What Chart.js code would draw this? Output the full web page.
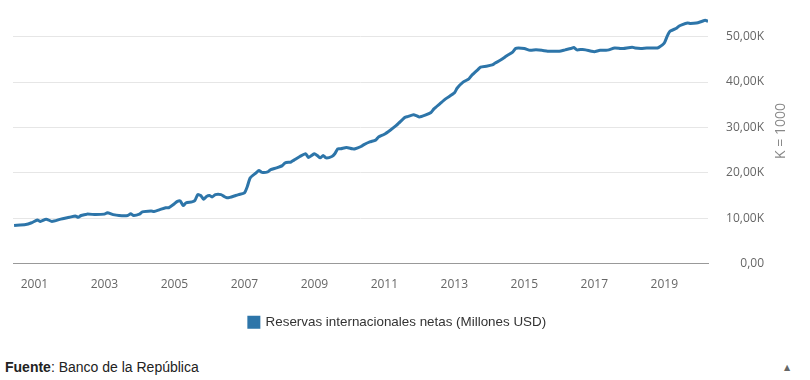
<!DOCTYPE html>
<html>
<head>
<meta charset="utf-8">
<script src="https://cdn.jsdelivr.net/npm/chart.js@4.4.0/dist/chart.umd.min.js"></script>
<style>
    html, body { margin: 0; padding: 0; background: #fff; }
    #wrap { position: relative; width: 810px; height: 380px; overflow: hidden; }
    #chart { position: absolute; left: 0; top: 0; }
    #fuente { position: absolute; left: 5px; top: 359px; font-family: "Liberation Sans", Arial, sans-serif; font-size: 14px; color: #222; }
    #arrow { position: absolute; left: 784px; top: 363px; font-family: "DejaVu Sans", sans-serif; font-size: 8px; color: #666; }
</style>
</head>
<body>
<div id="wrap">
    <canvas id="chart" width="810" height="345"></canvas>
    <div id="fuente"><b>Fuente</b>: Banco de la República</div>
    <div id="arrow">▲</div>
</div>
<script>
// meses (AAAA-MM) y reservas en millones de USD
const months = [
    '2000-06', '2000-10', '2000-12', '2001-02', '2001-03', '2001-05', '2001-07', '2001-10',
    '2002-01', '2002-03', '2002-04', '2002-05', '2002-07', '2002-10', '2003-01', '2003-02',
    '2003-04', '2003-06', '2003-09', '2003-10', '2003-11', '2004-01', '2004-02', '2004-05',
    '2004-06', '2004-08', '2004-10', '2004-11', '2005-01', '2005-02', '2005-03', '2005-04',
    '2005-05', '2005-07', '2005-08', '2005-09', '2005-10', '2005-11', '2005-12', '2006-01',
    '2006-02', '2006-03', '2006-05', '2006-06', '2006-07', '2006-08', '2006-10', '2006-11',
    '2007-01', '2007-02', '2007-03', '2007-05', '2007-06', '2007-07', '2007-09', '2007-10',
    '2007-12', '2008-02', '2008-03', '2008-05', '2008-06', '2008-08', '2008-10', '2008-11',
    '2009-01', '2009-02', '2009-03', '2009-04', '2009-05', '2009-07', '2009-08', '2009-09',
    '2009-10', '2009-12', '2010-02', '2010-03', '2010-05', '2010-06', '2010-08', '2010-10',
    '2010-11', '2011-01', '2011-03', '2011-05', '2011-06', '2011-08', '2011-09', '2011-11',
    '2011-12', '2012-01', '2012-03', '2012-05', '2012-06', '2012-08', '2012-10', '2013-01',
    '2013-02', '2013-04', '2013-06', '2013-07', '2013-09', '2013-10', '2013-12', '2014-02',
    '2014-03', '2014-05', '2014-07', '2014-09', '2014-10', '2014-11', '2015-01', '2015-03',
    '2015-05', '2015-07', '2015-09', '2015-11', '2016-01', '2016-03', '2016-05', '2016-06',
    '2016-07', '2016-09', '2016-10', '2016-12', '2017-01', '2017-03', '2017-05', '2017-06',
    '2017-08', '2017-10', '2017-11', '2018-02', '2018-03', '2018-05', '2018-07', '2018-10',
    '2018-11', '2019-01', '2019-02', '2019-03', '2019-05', '2019-06', '2019-07', '2019-09',
    '2019-10', '2019-12', '2020-02', '2020-03', '2020-04'
];
const reservas = [
    8400, 8600, 9000, 9600, 9300, 9800, 9300, 9800,
    10200, 10500, 10200, 10600, 10900, 10800, 10900, 11200,
    10800, 10600, 10600, 11000, 10600, 10900, 11400, 11600,
    11500, 11900, 12300, 12300, 13200, 13700, 13800, 12800,
    13400, 13600, 13900, 15200, 15000, 14200, 14800, 15000,
    14700, 15200, 15200, 14800, 14500, 14600, 15000, 15200,
    15600, 17000, 18900, 20000, 20500, 20100, 20200, 20700,
    21100, 21600, 22200, 22400, 22800, 23600, 24200, 23400,
    24200, 23800, 23300, 23800, 23300, 23600, 24200, 25300,
    25300, 25600, 25300, 25300, 25800, 26200, 26800, 27200,
    27900, 28500, 29400, 30400, 31000, 32200, 32400, 32800,
    32600, 32300, 32700, 33300, 34100, 35200, 36300, 37600,
    38700, 40000, 40700, 41500, 42700, 43300, 43500, 43800,
    44200, 44900, 45800, 46600, 47400, 47500, 47400, 47000,
    47100, 47000, 46800, 46800, 46800, 47100, 47400, 47600,
    47100, 47200, 47100, 46800, 46700, 47000, 47000, 47100,
    47500, 47400, 47400, 47700, 47500, 47400, 47500, 47500,
    47600, 48600, 50100, 51200, 51800, 52300, 52600, 53000,
    52900, 53000, 53400, 53600, 53400
];
const yearTicks = [2001, 2003, 2005, 2007, 2009, 2011, 2013, 2015, 2017, 2019];
const valueTicks = [0, 10000, 20000, 30000, 40000, 50000];
const serieLabel = 'Reservas internacionales netas (Millones USD)';
const axisNote = 'K = 1000';

const lineColor = '#2d75a9';

function toYear(m) {
    const p = m.split('-');
    return parseInt(p[0]) + (parseInt(p[1]) - 1) / 12;
}

function fmtK(v) {
    if (v === 0) return '0,00';
    return (v / 1000).toFixed(2).replace('.', ',') + 'K';
}

// texto vertical a la derecha (de abajo hacia arriba)
const axisNotePlugin = {
    id: 'axisNote',
    afterLayout(chart) {
        // la leyenda va un poco corrida a la derecha
        if (chart.legend) {
            chart.legend.left += 9;
            chart.legend.right += 9;
        }
    },
    afterDraw(chart) {
        const ctx = chart.ctx;
        ctx.save();
        ctx.translate(781, 131);
        ctx.rotate(-Math.PI / 2);
        ctx.font = '14px "Open Sans"';
        ctx.fillStyle = '#888';
        ctx.textAlign = 'center';
        ctx.textBaseline = 'middle';
        ctx.fillText(axisNote, 0, 0);
        ctx.restore();
    }
};

const ctx = document.getElementById('chart').getContext('2d');
new Chart(ctx, {
    type: 'line',
    data: {
        datasets: [{
            label: serieLabel,
            data: months.map((m, i) => ({ x: toYear(m), y: reservas[i] })),
            borderColor: lineColor,
            backgroundColor: lineColor,
            borderWidth: 3,
            pointRadius: 0,
            tension: 0.2
        }]
    },
    options: {
        responsive: false,
        animation: false,
        layout: { padding: { left: 13, right: 46, top: 14, bottom: 6 } },
        plugins: {
            legend: {
                position: 'bottom',
                labels: {
                    boxWidth: 10,
                    boxHeight: 10,
                    padding: 10,
                    color: '#333',
                    font: { family: '"Liberation Sans", Arial', size: 13.4 }
                }
            },
            tooltip: { enabled: false }
        },
        scales: {
            x: {
                type: 'linear',
                min: 2000.386,
                max: 2020.25,
                grid: { display: false, drawTicks: false },
                border: { display: true, color: '#999' },
                afterBuildTicks: scale => { scale.ticks = yearTicks.map(v => ({ value: v })); },
                afterFit: scale => { scale.height = 42; },
                ticks: {
                    padding: 14,
                    maxRotation: 0,
                    autoSkip: false,
                    color: '#666',
                    font: { family: '"Open Sans"', size: 12 },
                    callback: v => String(v)
                }
            },
            y: {
                position: 'right',
                min: 0,
                max: 55000,
                grid: { color: '#e6e6e6', drawTicks: false },
                border: { display: false },
                afterBuildTicks: scale => { scale.ticks = valueTicks.map(v => ({ value: v })); },
                afterFit: scale => {
                    scale.width = 56;
                    scale.paddingTop = 0;
                    scale.paddingBottom = 0;
                },
                ticks: {
                    padding: 16,
                    crossAlign: 'far',
                    color: '#666',
                    font: { family: '"Open Sans"', size: 12 },
                    callback: v => fmtK(v)
                }
            }
        }
    },
    plugins: [axisNotePlugin]
});
</script>
</body>
</html>
